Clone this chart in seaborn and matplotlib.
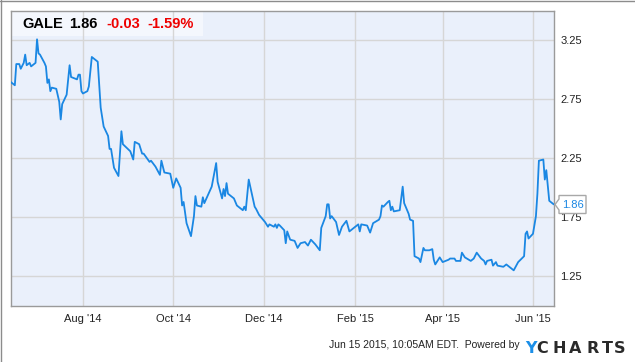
import matplotlib
matplotlib.use('Agg')
import matplotlib.pyplot as plt
import seaborn as sns
import pandas as pd
from matplotlib.patches import Rectangle, Polygon
from matplotlib.lines import Line2D

# ---- data ----
dates = [
    '2014-06-13', '2014-06-16', '2014-06-17', '2014-06-19', '2014-06-20', '2014-06-22',
    '2014-06-23', '2014-06-24', '2014-06-26', '2014-06-27', '2014-06-30', '2014-07-01',
    '2014-07-02', '2014-07-03', '2014-07-06', '2014-07-07', '2014-07-08', '2014-07-09',
    '2014-07-10', '2014-07-11', '2014-07-14', '2014-07-16', '2014-07-17', '2014-07-18',
    '2014-07-21', '2014-07-23', '2014-07-24', '2014-07-28', '2014-07-29', '2014-07-30',
    '2014-07-31', '2014-08-01', '2014-08-04', '2014-08-05', '2014-08-07', '2014-08-11',
    '2014-08-13', '2014-08-15', '2014-08-18', '2014-08-19', '2014-08-20', '2014-08-22',
    '2014-08-25', '2014-08-27', '2014-08-28', '2014-09-02', '2014-09-04', '2014-09-05',
    '2014-09-08', '2014-09-10', '2014-09-11', '2014-09-15', '2014-09-16', '2014-09-19',
    '2014-09-22', '2014-09-23', '2014-09-25', '2014-09-29', '2014-10-01', '2014-10-03',
    '2014-10-06', '2014-10-07', '2014-10-08', '2014-10-10', '2014-10-13', '2014-10-15',
    '2014-10-16', '2014-10-17', '2014-10-20', '2014-10-21', '2014-10-22', '2014-10-27',
    '2014-10-30', '2014-10-31', '2014-11-03', '2014-11-04', '2014-11-05', '2014-11-06',
    '2014-11-07', '2014-11-11', '2014-11-13', '2014-11-17', '2014-11-18', '2014-11-19',
    '2014-11-21', '2014-11-25', '2014-11-26', '2014-11-28', '2014-12-02', '2014-12-04',
    '2014-12-05', '2014-12-08', '2014-12-09', '2014-12-10', '2014-12-11', '2014-12-12',
    '2014-12-15', '2014-12-16', '2014-12-17', '2014-12-19', '2014-12-22', '2014-12-24',
    '2014-12-26', '2014-12-29', '2014-12-31', '2015-01-02', '2015-01-05', '2015-01-08',
    '2015-01-09', '2015-01-12', '2015-01-13', '2015-01-14', '2015-01-15', '2015-01-16',
    '2015-01-19', '2015-01-21', '2015-01-23', '2015-01-26', '2015-01-28', '2015-01-30',
    '2015-02-03', '2015-02-04', '2015-02-05', '2015-02-09', '2015-02-11', '2015-02-13',
    '2015-02-17', '2015-02-18', '2015-02-19', '2015-02-20', '2015-02-23', '2015-02-24',
    '2015-02-25', '2015-02-26', '2015-02-27', '2015-03-03', '2015-03-05', '2015-03-06',
    '2015-03-09', '2015-03-10', '2015-03-12', '2015-03-13', '2015-03-16', '2015-03-17',
    '2015-03-19', '2015-03-20', '2015-03-23', '2015-03-25', '2015-03-26', '2015-03-27',
    '2015-03-30', '2015-04-01', '2015-04-05', '2015-04-06', '2015-04-09', '2015-04-10',
    '2015-04-13', '2015-04-14', '2015-04-16', '2015-04-20', '2015-04-22', '2015-04-24',
    '2015-04-27', '2015-04-29', '2015-04-30', '2015-05-01', '2015-05-04', '2015-05-05',
    '2015-05-07', '2015-05-08', '2015-05-12', '2015-05-14', '2015-05-17', '2015-05-19',
    '2015-05-22', '2015-05-26', '2015-05-27', '2015-05-28', '2015-05-29', '2015-06-01',
    '2015-06-03', '2015-06-04', '2015-06-05', '2015-06-08', '2015-06-09', '2015-06-10',
    '2015-06-12', '2015-06-15',
]
prices = [
    2.90, 2.87, 3.05, 3.05, 3.01, 3.06,
    3.13, 3.04, 3.06, 3.03, 3.06, 3.26,
    3.14, 3.13, 3.06, 3.03, 2.89, 2.92,
    2.82, 2.85, 2.84, 2.73, 2.58, 2.71,
    2.79, 3.04, 2.94, 2.92, 2.96, 2.96,
    2.82, 2.80, 2.82, 2.86, 3.11, 3.07,
    2.68, 2.52, 2.44, 2.33, 2.33, 2.17,
    2.10, 2.48, 2.37, 2.31, 2.24, 2.39,
    2.37, 2.29, 2.29, 2.22, 2.23, 2.18,
    2.11, 2.23, 2.13, 2.12, 2.00, 2.08,
    2.00, 1.85, 1.88, 1.70, 1.59, 1.76,
    1.93, 1.85, 1.84, 1.92, 1.87, 2.01,
    2.21, 2.05, 1.91, 1.99, 1.93, 2.04,
    1.95, 1.91, 1.85, 1.81, 1.84, 1.81,
    2.07, 1.84, 1.82, 1.77, 1.71, 1.67,
    1.69, 1.67, 1.69, 1.66, 1.69, 1.68,
    1.64, 1.53, 1.63, 1.56, 1.55, 1.49,
    1.53, 1.54, 1.51, 1.56, 1.52, 1.47,
    1.66, 1.76, 1.86, 1.86, 1.74, 1.76,
    1.71, 1.60, 1.67, 1.72, 1.63, 1.65,
    1.69, 1.63, 1.69, 1.68, 1.62, 1.70,
    1.73, 1.76, 1.85, 1.84, 1.88, 1.89,
    1.81, 1.84, 1.80, 1.81, 2.01, 1.87,
    1.78, 1.73, 1.72, 1.42, 1.40, 1.37,
    1.49, 1.47, 1.47, 1.48, 1.39, 1.35,
    1.41, 1.37, 1.39, 1.40, 1.40, 1.38,
    1.38, 1.45, 1.41, 1.38, 1.40, 1.45,
    1.40, 1.38, 1.35, 1.38, 1.39, 1.34,
    1.37, 1.34, 1.33, 1.35, 1.32, 1.30,
    1.37, 1.42, 1.61, 1.63, 1.57, 1.61,
    1.76, 1.95, 2.23, 2.24, 2.07, 2.15,
    1.89, 1.86,
]
x_tick_dates = ['2014-08-01', '2014-10-01', '2014-12-01', '2015-02-01', '2015-04-01', '2015-06-01']
x_tick_labels = ["Aug '14", "Oct '14", "Dec '14", "Feb '15", "Apr '15", "Jun '15"]
y_ticks = [1.25, 1.75, 2.25, 2.75, 3.25]
y_tick_labels = ['1.25', '1.75', '2.25', '2.75', '3.25']
ticker = 'GALE'
last_price = '1.86'
change = '-0.03'
change_pct = '-1.59%'
footer = 'Jun 15 2015, 10:05AM EDT.  Powered by'

LINE = '#1a87e3'
W, H = 635, 362

def fx(px):
    return px / W

def fy(py):
    return 1 - py / H

sns.set_theme(style='white')
plt.rcParams['font.family'] = ['Liberation Sans', 'DejaVu Sans']

fig = plt.figure(figsize=(W / 100, H / 100), dpi=100)
fig.patch.set_facecolor('white')
ax = fig.add_axes([fx(11), fy(305.7), (554 - 11) / W, (305.7 - 11) / H])

df = pd.DataFrame({'date': pd.to_datetime(dates), 'price': prices})
sns.lineplot(data=df, x='date', y='price', ax=ax, color=LINE, linewidth=1.3, zorder=3)

ax.set_facecolor('#eaf0fb')
ax.set_xlim(pd.Timestamp('2014-06-13 10:00'), pd.Timestamp('2015-06-15 05:00'))
ax.set_ylim(1.0, 3.5)
ax.set_xticks(pd.to_datetime(x_tick_dates))
ax.set_xticklabels(x_tick_labels)
ax.set_yticks(y_ticks)
ax.set_yticklabels(y_tick_labels)
ax.yaxis.tick_right()
ax.tick_params(axis='both', length=0, labelsize=8, labelcolor='#222222')
ax.tick_params(axis='y', pad=4.5)
ax.tick_params(axis='x', pad=6)
ax.set_axisbelow(True)
ax.grid(True, color='#d6d6d6', linewidth=1)
ax.set_xlabel('')
ax.set_ylabel('')
for s in ax.spines.values():
    s.set_color('#9a9a9a')
    s.set_linewidth(1)

# header box
ax.add_patch(Rectangle((0, 1 - 25 / 294.7), 192 / 543, 25 / 294.7,
                       transform=ax.transAxes, facecolor='#f4f7fd',
                       edgecolor='none', zorder=0.2))
hy = fy(28.3)
fig.text(fx(22), hy, ticker, fontsize=10.5, fontweight='bold', color='black', va='baseline')
fig.text(fx(69), hy, last_price, fontsize=10.5, fontweight='bold', color='black', va='baseline')
fig.text(fx(106), hy, change, fontsize=10.5, fontweight='bold', color='#ee0000', va='baseline')
fig.text(fx(147), hy, change_pct, fontsize=10.5, fontweight='bold', color='#ee0000', va='baseline')

# last price tag
tag = Polygon([(fx(555), fy(204.5)), (fx(559), fy(199)), (fx(559), fy(195.5)),
               (fx(586), fy(195.5)), (fx(586), fy(213.5)), (fx(559), fy(213.5)),
               (fx(559), fy(210))], closed=True, transform=fig.transFigure,
              facecolor='white', edgecolor='#a8a8a8', linewidth=1, zorder=10)
fig.patches.append(tag)
fig.text(fx(572.5), fy(204.5), last_price, fontsize=8, color=LINE,
         ha='center', va='center', zorder=11)

# footer
fig.text(fx(520), fy(348), footer, fontsize=7.5, color='#222222', ha='right', va='baseline')
fig.text(fx(531), fy(353.3), 'Y', fontsize=11.5, fontweight='bold', color='#1b8fe8',
         ha='center', va='baseline', family='DejaVu Sans')
for ch, cx in zip('CHARTS', [542.5, 559, 575.5, 592.5, 607.5, 619.7]):
    fig.text(fx(cx), fy(353.3), ch, fontsize=11.5, fontweight='bold', color='#2a2a2a',
             ha='center', va='baseline', family='DejaVu Sans')

# outer frame lines
fig.lines.append(Line2D([0, 1], [fy(0.5), fy(0.5)], transform=fig.transFigure, color='#8c8c8c', lw=1))
fig.lines.append(Line2D([fx(0.5), fx(0.5)], [0, 1], transform=fig.transFigure, color='#8c8c8c', lw=1))

fig.savefig('out.png', dpi=100)
